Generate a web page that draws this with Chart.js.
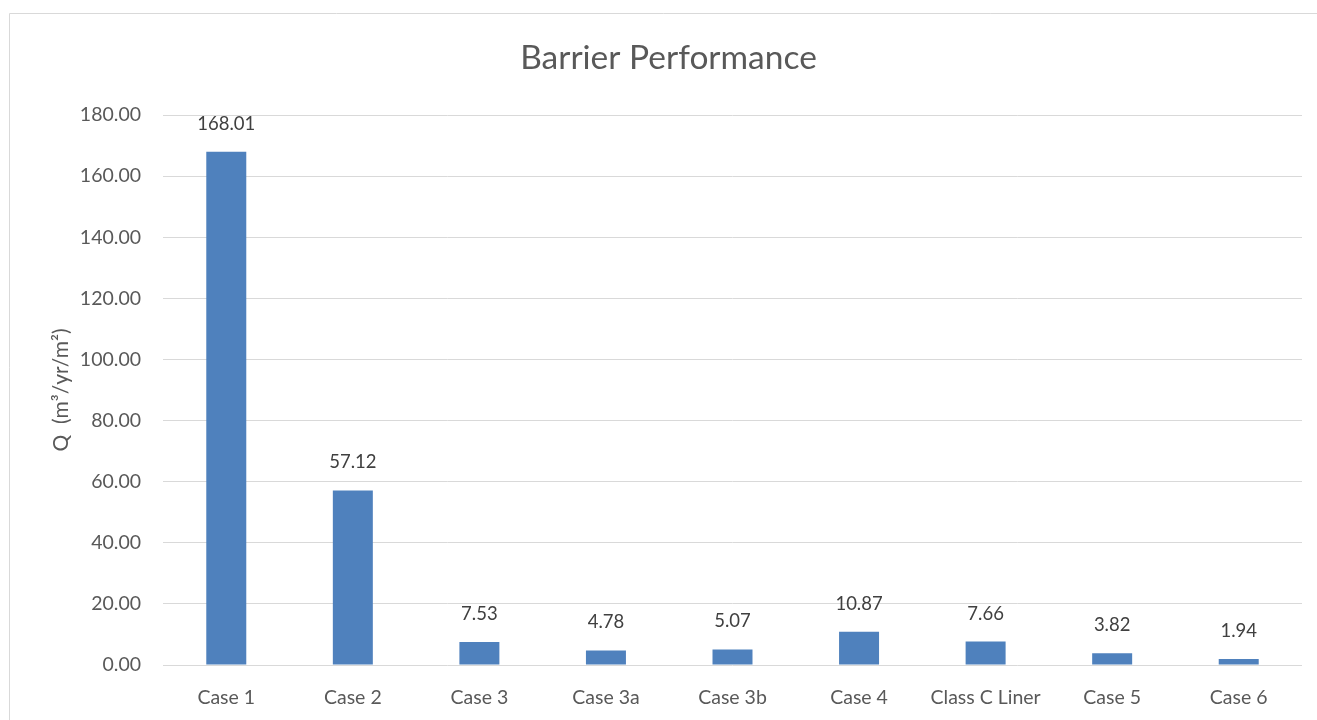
<!DOCTYPE html>
<html>
<head>
<meta charset="utf-8">
<script src="https://cdn.jsdelivr.net/npm/chart.js@4/dist/chart.umd.min.js"></script>
<style>
  html, body { margin: 0; padding: 0; background: #fff; }
  #wrap { width: 1317px; height: 720px; position: relative; }
</style>
</head>
<body>
<div id="wrap"><canvas id="c" width="1317" height="720"></canvas></div>
<script>
const categories = ['Case 1', 'Case 2', 'Case 3', 'Case 3a', 'Case 3b', 'Case 4', 'Class C Liner', 'Case 5', 'Case 6'];
const flowValues = [168.01, 57.12, 7.53, 4.78, 5.07, 10.87, 7.66, 3.82, 1.94];
const yTicks = [0, 20, 40, 60, 80, 100, 120, 140, 160, 180];

const FONT = 'Lato, "Open Sans", sans-serif';
const GREY = '#595959';

// Outer frame line along the top and left of the chart
const framePlugin = {
  id: 'frame',
  beforeDraw(chart) {
    const ctx = chart.ctx;
    ctx.save();
    ctx.strokeStyle = '#d9d9d9';
    ctx.lineWidth = 1;
    ctx.beginPath();
    ctx.moveTo(9.5, 730);
    ctx.lineTo(9.5, 13.5);
    ctx.lineTo(1330, 13.5);
    ctx.stroke();
    ctx.restore();
  }
};

// Value labels above each bar
const valueLabels = {
  id: 'valueLabels',
  afterDatasetsDraw(chart) {
    const ctx = chart.ctx;
    const meta = chart.getDatasetMeta(0);
    ctx.save();
    ctx.font = '18.5px ' + FONT;
    ctx.fillStyle = '#404040';
    ctx.textAlign = 'center';
    ctx.textBaseline = 'middle';
    meta.data.forEach((bar, i) => {
      ctx.fillText(flowValues[i].toFixed(2), bar.x, bar.y - 28);
    });
    ctx.restore();
  }
};

new Chart(document.getElementById('c'), {
  type: 'bar',
  data: {
    labels: categories,
    datasets: [{
      data: flowValues,
      backgroundColor: '#4F81BD',
      borderWidth: 0,
      categoryPercentage: 1,
      barPercentage: 0.316
    }]
  },
  options: {
    responsive: false,
    animation: false,
    layout: { padding: { left: 35, right: 15, top: 0, bottom: 0 } },
    plugins: {
      legend: { display: false },
      tooltip: { enabled: false },
      title: {
        display: true,
        text: 'Barrier Performance',
        color: GREY,
        font: { family: FONT, size: 33.5, weight: 'normal' },
        padding: { top: 38, bottom: 36.8 }
      }
    },
    scales: {
      x: {
        grid: { display: false },
        border: { display: false },
        ticks: {
          color: GREY,
          font: { family: FONT, size: 19.5 },
          padding: 13,
          maxRotation: 0,
          autoSkip: false
        },
        afterFit(scale) { scale.height = 55; }
      },
      y: {
        min: 0,
        max: 180,
        afterBuildTicks(scale) { scale.ticks = yTicks.map(v => ({ value: v })); },
        grid: { color: '#d9d9d9', lineWidth: 1, drawTicks: false },
        border: { display: false },
        ticks: {
          color: GREY,
          font: { family: FONT, size: 19.5 },
          padding: 22,
          callback: v => Number(v).toFixed(2)
        },
        title: {
          display: true,
          text: 'Q  (m³/yr/m²)',
          color: GREY,
          font: { family: FONT, size: 21 },
          padding: { top: 14, bottom: 0 }
        },
        afterFit(scale) { scale.width = 128; }
      }
    }
  },
  plugins: [framePlugin, valueLabels]
});
</script>
</body>
</html>
